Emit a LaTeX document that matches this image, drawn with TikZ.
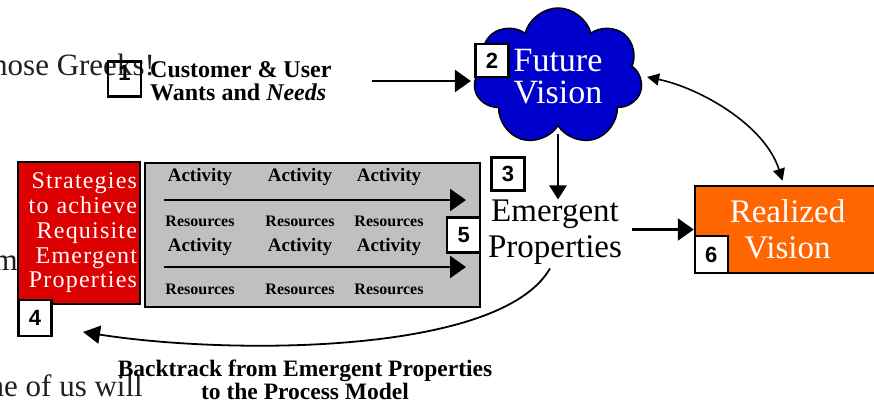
\documentclass[tikz,border=0pt]{standalone}
\usepackage{fontspec}
\setmainfont{Liberation Serif}
\setsansfont{Liberation Sans}
\newfontfamily\spacedserif[LetterSpace=5]{Liberation Serif}
\usetikzlibrary{positioning, shapes.symbols, arrows.meta, calc}

\definecolor{visionblue}{HTML}{0000CC}
\definecolor{stratred}{HTML}{DD0000}
\definecolor{realorange}{HTML}{FF6600}
\definecolor{procgray}{HTML}{C0C0C0}
\definecolor{pagetext}{HTML}{202020}

\begin{document}
\begin{tikzpicture}[
  x=1pt, y=-1pt,
  lbl/.style={inner sep=0pt, align=center},
  page/.style={inner sep=0pt, text=pagetext, font=\fontsize{31}{31}\selectfont},
  numbox/.style={draw, line width=2.2pt, fill=white, minimum size=33pt, inner sep=0pt,
    font=\sffamily\bfseries\fontsize{22}{22}\selectfont},
  block/.style={draw, line width=2.5pt, inner sep=0pt, align=center},
  arr/.style={-{Triangle[length=16pt,width=22pt]}, line width=2.5pt},
  thinarr/.style={{Triangle[length=12pt,width=12pt]}-{Triangle[length=12pt,width=12pt]}, line width=1.6pt},
]
\useasboundingbox (0,0) rectangle (874,405);

% bits of the page behind the picture
\node[page, anchor=base west] (greeks) at (-8,75) {hose Greeks!};
\node[page, anchor=base east] (pagem) at (18,270) {m};
\node[page, anchor=base east] (pagewill) at (143,396) {ne of us will};

% 1: customer
\node[lbl, anchor=west, align=left, font=\bfseries\fontsize{24}{23}\selectfont] (cust) at (150,81)
  {Customer \& User\\Wants and \textit{Needs}};
\node[numbox, fill=none, minimum height=35pt] (one) at (124.5,79) {\raisebox{13pt}{1}};

% 2: future vision
\node[cloud, cloud puffs=7, cloud ignores aspect, draw, line width=1.5pt, fill=visionblue,
  minimum width=169pt, minimum height=138pt, inner sep=0pt, align=center,
  text=white, font=\fontsize{34}{32}\selectfont] (vision) at (558,77) {Future\\Vision};
\node[numbox] (two) at (492,60.5) {2};

% 3: emergent properties
\node[lbl, font=\fontsize{33}{36}\selectfont] (emerg) at (555,232) {Emergent\\Properties};
\node[numbox] (three) at (508,174) {3};

% 6: realized vision
\node[block, fill=realorange, text=white, minimum width=185pt, minimum height=87pt,
  font=\fontsize{33}{36}\selectfont] (real) at (787.5,229.5) {Realized\\Vision};
\node[numbox, anchor=south west, minimum height=37pt] (six) at (real.south west) {6};

% 4: strategies
\node[block, fill=stratred, text=white, minimum width=122pt, minimum height=142pt,
  text width=116pt, align=right,
  font=\spacedserif\fontsize{24}{24.8}\selectfont] (strat) at (79,233)
  {Strategies\\to achieve\\Requisite\\Emergent\\Properties};
\node[numbox, minimum height=36pt] (four) at (35,318) {4};

% 5: process model
\node[block, fill=procgray, minimum width=335pt, minimum height=144pt] (proc) at (312.5,235) {};
\foreach \row/\ya/\yr/\yl in {1/177/221/200, 2/247/289/267} {
  \foreach \col/\xx in {1/200, 2/300, 3/389} {
    \node[lbl, font=\bfseries\fontsize{19}{19}\selectfont] (act\row\col) at (\xx,\ya) {Activity};
    \node[lbl, font=\bfseries\fontsize{16}{16}\selectfont] (res\row\col) at (\xx,\yr) {Resources};
  }
  \coordinate (flow\row s) at (164,\yl);
  \coordinate (flow\row e) at (466,\yl);
  \draw[arr] (flow\row s) -- (flow\row e);
}
\node[numbox, anchor=east, minimum height=35pt] (five) at (proc.east) {5};

% connectors
\draw[arr, shorten >=4pt] ($(cust.east)+(40,0)$) -- (cust.east -| vision.west);
\draw[arr, -{Triangle[length=14pt,width=17pt]}] (vision.south) ++(0,7) -- (vision.south |- emerg.north);
\draw[arr, shorten <=10pt] (emerg.east |- real.west) -- (real.west);
\draw[thinarr] ($(vision.east)+(6,0)$) .. controls (700,88) and (765,125) .. ($(real.north)+(-5,-4)$);
\draw[arr, line width=1.8pt, -{Triangle[length=17pt,width=18pt]}]
  ($(emerg.south)+(-5,4)$) .. controls (500,355) and (230,355) .. (83,332);

\node[lbl, font=\bfseries\fontsize{23.5}{23}\selectfont] (back) at (305,380)
  {Backtrack from Emergent Properties\\to the Process Model};
\end{tikzpicture}
\end{document}
